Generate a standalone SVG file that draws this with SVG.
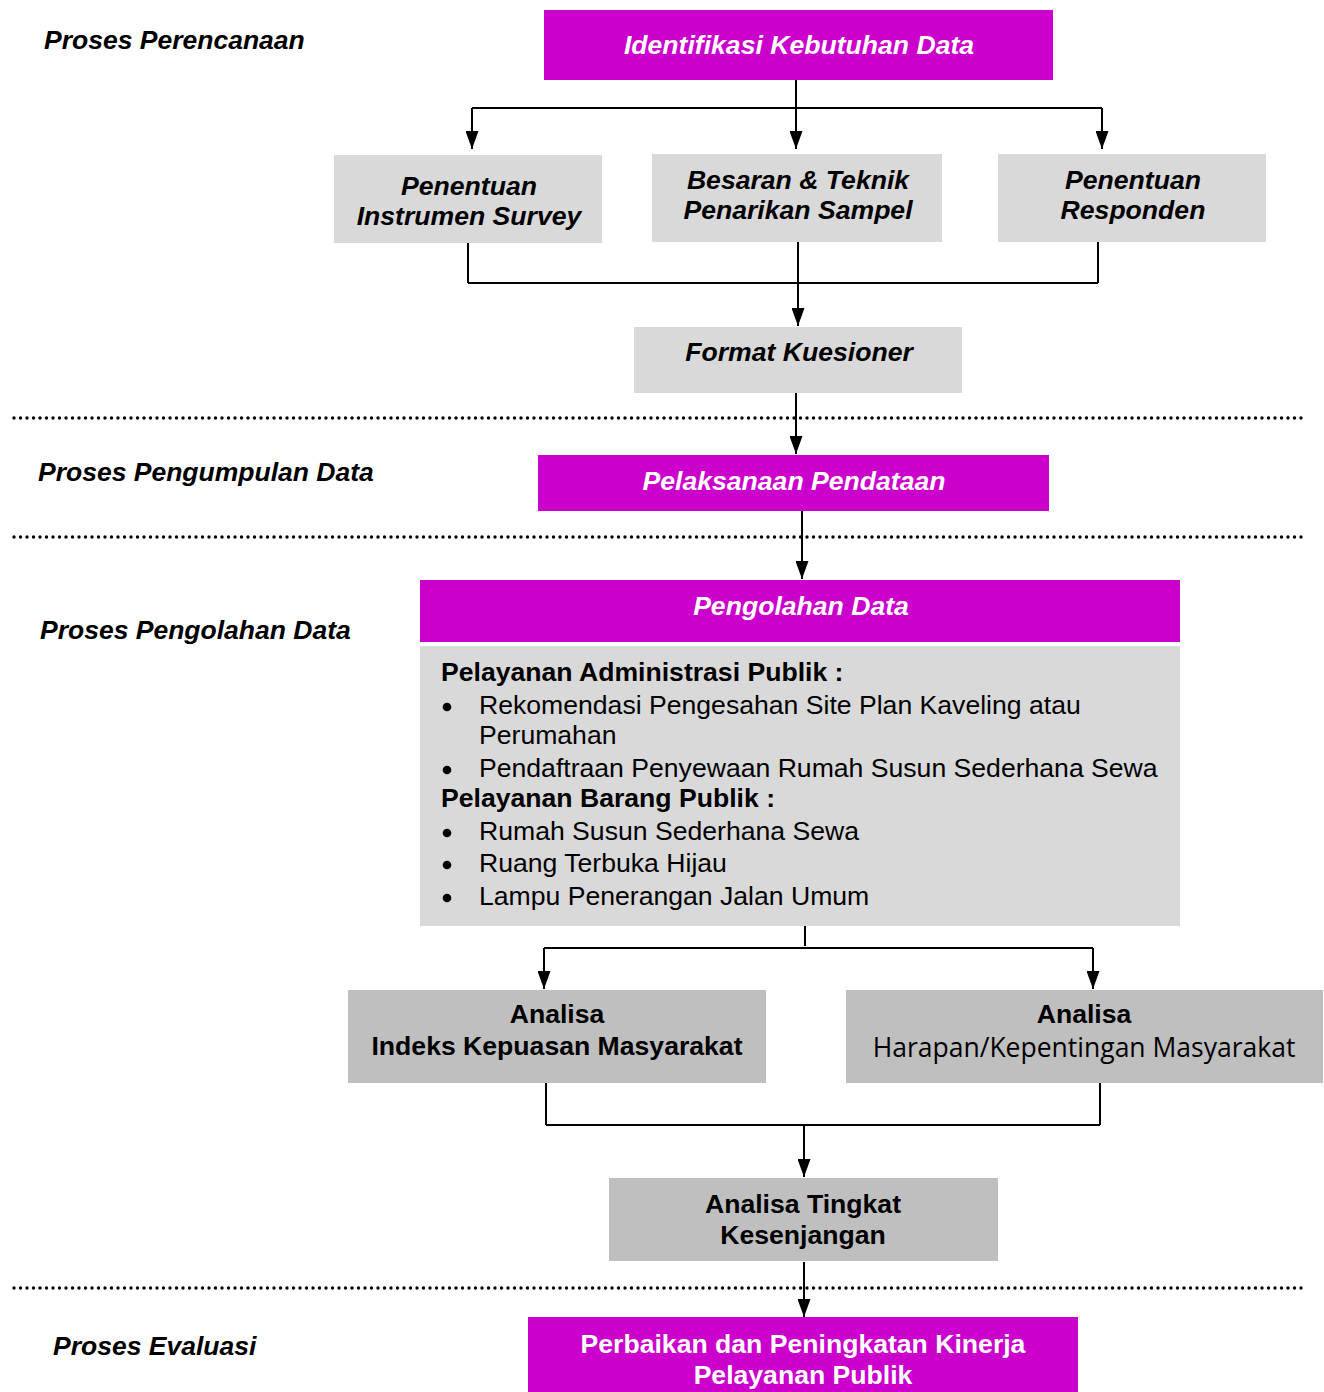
<svg xmlns="http://www.w3.org/2000/svg" width="1324" height="1392" viewBox="0 0 1324 1392">
<defs>
<marker id="arr" markerWidth="18" markerHeight="13" refX="18" refY="6.5" orient="auto" markerUnits="userSpaceOnUse" viewBox="0 0 18 13">
<path d="M0,0 L18,6.5 L0,13 Z" fill="#000"/>
</marker>
<style>
.mag{fill:#CC00CC}
.lg{fill:#D9D9D9}
.dg{fill:#BFBFBF}
.t{font-family:"Liberation Sans",Arial,sans-serif;font-size:26.6px;text-anchor:middle}
.bi{font-weight:bold;font-style:italic}
.b{font-weight:bold}
.w{fill:#fff}
.k{fill:#000}
.lbl{font-family:"Liberation Sans",Arial,sans-serif;font-size:26.5px;font-weight:bold;font-style:italic;fill:#000}
.body{font-family:"Liberation Sans",Arial,sans-serif;font-size:26.6px;fill:#000}
.ln{stroke:#000;stroke-width:2;fill:none}
.dot{stroke:#000;stroke-width:3.4;stroke-linecap:round;stroke-dasharray:0 6.5;fill:none}
.bul{fill:#000}
</style>
</defs>

<g id="labels">
<text class="lbl" x="44" y="49">Proses Perencanaan</text>
<text class="lbl" x="38" y="481">Proses Pengumpulan Data</text>
<text class="lbl" x="40" y="639">Proses Pengolahan Data</text>
<text class="lbl" x="53" y="1355">Proses Evaluasi</text>
</g>

<g id="separators">
<line class="dot" x1="14" y1="418" x2="1306" y2="418"/>
<line class="dot" x1="14" y1="537" x2="1306" y2="537"/>
<line class="dot" x1="14" y1="1288" x2="1306" y2="1288"/>
</g>

<g id="connectors">
<line class="ln" x1="796" y1="80" x2="796" y2="108"/>
<line class="ln" x1="472" y1="108" x2="1102" y2="108"/>
<line class="ln" x1="472" y1="108" x2="472" y2="149" marker-end="url(#arr)"/>
<line class="ln" x1="796" y1="108" x2="796" y2="149" marker-end="url(#arr)"/>
<line class="ln" x1="1102" y1="108" x2="1102" y2="149" marker-end="url(#arr)"/>
<line class="ln" x1="468" y1="243" x2="468" y2="283"/>
<line class="ln" x1="1098" y1="242" x2="1098" y2="283"/>
<line class="ln" x1="468" y1="283" x2="1098" y2="283"/>
<line class="ln" x1="798" y1="242" x2="798" y2="326" marker-end="url(#arr)"/>
<line class="ln" x1="796" y1="393" x2="796" y2="454" marker-end="url(#arr)"/>
<line class="ln" x1="802" y1="511" x2="802" y2="579" marker-end="url(#arr)"/>
<line class="ln" x1="805" y1="926" x2="805" y2="946"/>
<line class="ln" x1="544" y1="948" x2="1093" y2="948"/>
<line class="ln" x1="544" y1="948" x2="544" y2="989" marker-end="url(#arr)"/>
<line class="ln" x1="1093" y1="948" x2="1093" y2="989" marker-end="url(#arr)"/>
<line class="ln" x1="546" y1="1083" x2="546" y2="1125"/>
<line class="ln" x1="1100" y1="1083" x2="1100" y2="1125"/>
<line class="ln" x1="546" y1="1125" x2="1100" y2="1125"/>
<line class="ln" x1="804" y1="1125" x2="804" y2="1177" marker-end="url(#arr)"/>
<line class="ln" x1="804" y1="1262" x2="804" y2="1317" marker-end="url(#arr)"/>
</g>

<g id="n-identifikasi">
<rect class="mag" x="544" y="10" width="509" height="70"/>
<text class="t bi w" x="799" y="54">Identifikasi Kebutuhan Data</text>
</g>

<g id="n-instrumen">
<rect class="lg" x="334" y="155" width="268" height="88"/>
<text class="t bi k" x="469" y="195">Penentuan</text>
<text class="t bi k" x="469" y="225">Instrumen Survey</text>
</g>

<g id="n-sampel">
<rect class="lg" x="652" y="154" width="290" height="88"/>
<text class="t bi k" x="798" y="189">Besaran &amp; Teknik</text>
<text class="t bi k" x="798" y="219">Penarikan Sampel</text>
</g>

<g id="n-responden">
<rect class="lg" x="998" y="154" width="268" height="88"/>
<text class="t bi k" x="1133" y="189">Penentuan</text>
<text class="t bi k" x="1133" y="219">Responden</text>
</g>

<g id="n-format">
<rect class="lg" x="634" y="327" width="328" height="66"/>
<text class="t bi k" x="799" y="361">Format Kuesioner</text>
</g>

<g id="n-pelaksanaan">
<rect class="mag" x="538" y="455" width="511" height="56"/>
<text class="t bi w" x="794" y="490">Pelaksanaan Pendataan</text>
</g>

<g id="n-pengolahan">
<rect class="mag" x="420" y="580" width="760" height="62"/>
<text class="t bi w" x="801" y="615">Pengolahan Data</text>
<rect class="lg" x="420" y="646" width="760" height="280"/>
<text class="body b" x="441" y="681">Pelayanan Administrasi Publik :</text>
<circle class="bul" cx="447" cy="707" r="4.3"/>
<text class="body" x="479" y="714">Rekomendasi Pengesahan Site Plan Kaveling atau</text>
<text class="body" x="479" y="744">Perumahan</text>
<circle class="bul" cx="447" cy="770" r="4.3"/>
<text class="body" x="479" y="777">Pendaftraan Penyewaan Rumah Susun Sederhana Sewa</text>
<text class="body b" x="441" y="807">Pelayanan Barang Publik :</text>
<circle class="bul" cx="447" cy="833" r="4.3"/>
<text class="body" x="479" y="840">Rumah Susun Sederhana Sewa</text>
<circle class="bul" cx="447" cy="865" r="4.3"/>
<text class="body" x="479" y="872">Ruang Terbuka Hijau</text>
<circle class="bul" cx="447" cy="898" r="4.3"/>
<text class="body" x="479" y="905">Lampu Penerangan Jalan Umum</text>
</g>

<g id="n-ikm">
<rect class="dg" x="348" y="990" width="418" height="93"/>
<text class="t b k" x="557" y="1023">Analisa</text>
<text class="t b k" x="557" y="1055">Indeks Kepuasan Masyarakat</text>
</g>

<g id="n-harapan">
<rect class="dg" x="846" y="990" width="477" height="93"/>
<text class="t b k" x="1084" y="1023">Analisa</text>
<text class="t k" x="1084" y="1057" style="font-family:'Open Sans',sans-serif;font-weight:400;font-size:26.5px">Harapan/Kepentingan Masyarakat</text>
</g>

<g id="n-kesenjangan">
<rect class="dg" x="609" y="1178" width="389" height="83"/>
<text class="t b k" x="803" y="1213">Analisa Tingkat</text>
<text class="t b k" x="803" y="1244">Kesenjangan</text>
</g>

<g id="n-perbaikan">
<rect class="mag" x="528" y="1317" width="550" height="75"/>
<text class="t b w" x="803" y="1353">Perbaikan dan Peningkatan Kinerja</text>
<text class="t b w" x="803" y="1384">Pelayanan Publik</text>
</g>
</svg>
